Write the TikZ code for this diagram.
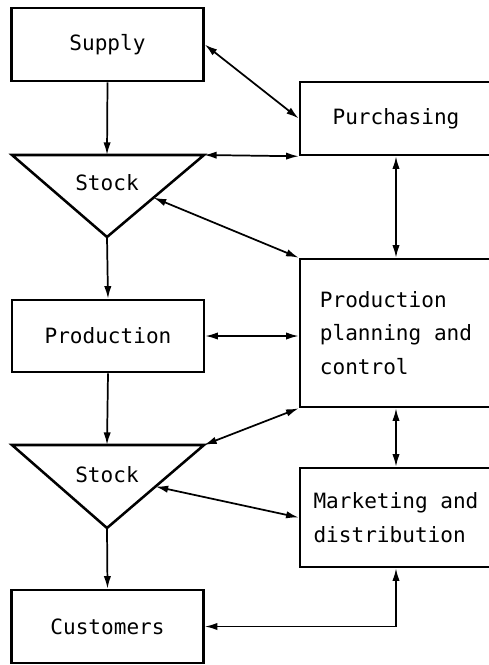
\documentclass[tikz,border=0pt]{standalone}
\usepackage{fontspec}
\setmonofont{DejaVu Sans Mono}
\usetikzlibrary{arrows.meta,calc}
\tikzset{
  box/.style={draw, line width=1.9pt, minimum width=144pt, inner sep=0pt,
    font=\ttfamily\fontsize{15.8}{25}\selectfont},
  lbl/.style={font=\ttfamily\fontsize{15.8}{25}\selectfont, inner sep=0pt},
  tri/.style={draw, line width=1.9pt, line join=miter},
  flow/.style={line width=1.3pt, -{Latex[length=9.5pt,width=5.5pt]}},
  link/.style={line width=1.3pt, {Latex[length=9.5pt,width=5.5pt]}-{Latex[length=9.5pt,width=5.5pt]}}
}
\begin{document}
\begin{tikzpicture}[x=0.75pt,y=-0.75pt]
\useasboundingbox (0,0) rectangle (489,665);
\clip (0,0) rectangle (489,665);
% boxes
\node[box, minimum height=54.75pt] (supply) at (107.5,44.5) {Supply};
\node[box, minimum height=54.75pt] (purch) at (396,118.5) {Purchasing};
\node[box, minimum height=111pt, align=left] (ppc) at (396,333) {Production\\planning and\\control};
\node[box, minimum height=54pt] (prod) at (108,336) {Production};
\node[box, minimum height=74.25pt, align=left] (mkt) at (396,517.5) {Marketing and\\distribution};
\node[box, minimum height=54.75pt] (cust) at (107.5,626.5) {Customers};
% stock triangles
\coordinate (s1l) at (12,155);
\coordinate (s1r) at (204,155);
\coordinate (s1a) at (107,237);
\coordinate (s1t) at (107,155);
\draw[tri] (s1l) -- (s1r) -- (s1a) -- cycle;
\node[lbl] (stock1) at (107,183) {Stock};
\coordinate (s2l) at (12,445);
\coordinate (s2r) at (204,445);
\coordinate (s2a) at (107,528);
\coordinate (s2t) at (107,445);
\draw[tri] (s2l) -- (s2r) -- (s2a) -- cycle;
\node[lbl] (stock2) at (107,475) {Stock};
\coordinate (s1m) at ($(s1r)!0.52!(s1a)$);
\coordinate (s2m) at ($(s2r)!0.5!(s2a)$);
% material flow
\draw[flow] (supply.south) -- (s1t);
\draw[flow] (s1a) -- (prod.north);
\draw[flow] (prod.south) -- (s2t);
\draw[flow] (s2a) -- (cust.north);
% information links
\draw[link] (supply.east) -- (purch.west);
\draw[link] (s1r) -- (purch.south west);
\draw[link] (purch.south) -- (ppc.north);
\draw[link] (s1m) -- (ppc.north west);
\draw[link] (prod.east) -- (prod.east -| ppc.west);
\draw[link] (s2r) -- (ppc.south west);
\draw[link] (ppc.south) -- (mkt.north);
\draw[link] (s2m) -- (mkt.west);
\draw[link] (cust.east) -| (mkt.south);
\end{tikzpicture}
\end{document}
